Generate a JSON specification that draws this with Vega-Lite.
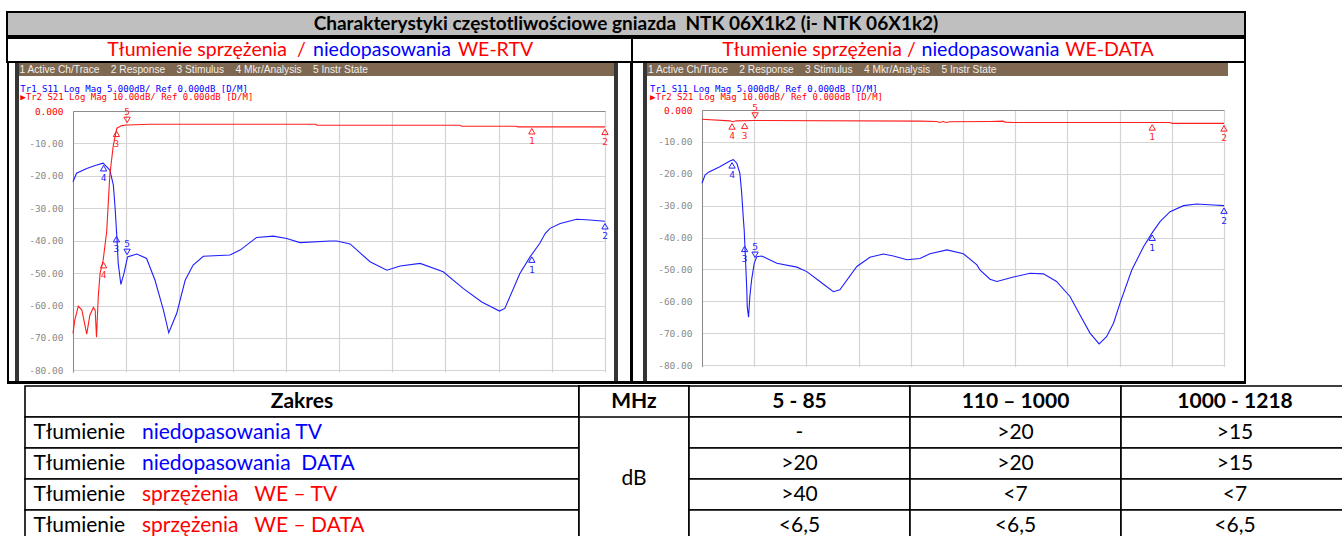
{
  "$schema": "https://vega.github.io/schema/vega-lite/v6.json",
  "background": "white",
  "padding": {"left": 6, "top": 11, "right": 0, "bottom": 0},
  "config": {"view": {"stroke": null}, "font": "Lato"},
  "datasets": {
    "traces": [
      {"p":"L","tr":"S11","f":5,"db":-21.8},{"p":"L","tr":"S11","f":13,"db":-19.2},{"p":"L","tr":"S11","f":36,"db":-17.7},{"p":"L","tr":"S11","f":55,"db":-16.8},{"p":"L","tr":"S11","f":73,"db":-16.1},{"p":"L","tr":"S11","f":88,"db":-18.2},{"p":"L","tr":"S11","f":96,"db":-22.8},{"p":"L","tr":"S11","f":100,"db":-30},{"p":"L","tr":"S11","f":104,"db":-39},{"p":"L","tr":"S11","f":107,"db":-47},{"p":"L","tr":"S11","f":113,"db":-53.5},{"p":"L","tr":"S11","f":120,"db":-50.1},{"p":"L","tr":"S11","f":128,"db":-45},{"p":"L","tr":"S11","f":149,"db":-44.1},{"p":"L","tr":"S11","f":171,"db":-45.5},{"p":"L","tr":"S11","f":190,"db":-52.2},{"p":"L","tr":"S11","f":209,"db":-61.4},{"p":"L","tr":"S11","f":221,"db":-68.4},{"p":"L","tr":"S11","f":239,"db":-62.4},{"p":"L","tr":"S11","f":258,"db":-52.2},{"p":"L","tr":"S11","f":276,"db":-47.5},{"p":"L","tr":"S11","f":299,"db":-44.8},{"p":"L","tr":"S11","f":359,"db":-44.4},{"p":"L","tr":"S11","f":382,"db":-42.9},{"p":"L","tr":"S11","f":419,"db":-39},{"p":"L","tr":"S11","f":457,"db":-38.6},{"p":"L","tr":"S11","f":487,"db":-39.3},{"p":"L","tr":"S11","f":517,"db":-40.6},{"p":"L","tr":"S11","f":585,"db":-40.1},{"p":"L","tr":"S11","f":600,"db":-40.1},{"p":"L","tr":"S11","f":630,"db":-41},{"p":"L","tr":"S11","f":675,"db":-46.5},{"p":"L","tr":"S11","f":713,"db":-49.1},{"p":"L","tr":"S11","f":743,"db":-47.8},{"p":"L","tr":"S11","f":788,"db":-47},{"p":"L","tr":"S11","f":840,"db":-49.6},{"p":"L","tr":"S11","f":885,"db":-54.7},{"p":"L","tr":"S11","f":927,"db":-58.9},{"p":"L","tr":"S11","f":967,"db":-61.7},{"p":"L","tr":"S11","f":979,"db":-60.9},{"p":"L","tr":"S11","f":1013,"db":-50.1},{"p":"L","tr":"S11","f":1036,"db":-45},{"p":"L","tr":"S11","f":1058,"db":-40.8},{"p":"L","tr":"S11","f":1070,"db":-37.8},{"p":"L","tr":"S11","f":1081,"db":-36.2},{"p":"L","tr":"S11","f":1104,"db":-34.7},{"p":"L","tr":"S11","f":1141,"db":-33.4},{"p":"L","tr":"S11","f":1171,"db":-33.6},{"p":"L","tr":"S11","f":1205,"db":-34},
      {"p":"L","tr":"S21","f":5,"db":-68.6},{"p":"L","tr":"S21","f":9,"db":-64.5},{"p":"L","tr":"S21","f":17,"db":-60.2},{"p":"L","tr":"S21","f":25,"db":-61.4},{"p":"L","tr":"S21","f":36,"db":-68.8},{"p":"L","tr":"S21","f":43,"db":-63},{"p":"L","tr":"S21","f":51,"db":-60.6},{"p":"L","tr":"S21","f":55,"db":-61.4},{"p":"L","tr":"S21","f":58,"db":-69.8},{"p":"L","tr":"S21","f":62,"db":-57.3},{"p":"L","tr":"S21","f":66,"db":-50.1},{"p":"L","tr":"S21","f":73,"db":-46},{"p":"L","tr":"S21","f":81,"db":-37.2},{"p":"L","tr":"S21","f":88,"db":-19.8},{"p":"L","tr":"S21","f":96,"db":-10.5},{"p":"L","tr":"S21","f":104,"db":-5.3},{"p":"L","tr":"S21","f":115,"db":-4.5},{"p":"L","tr":"S21","f":126,"db":-4.3},{"p":"L","tr":"S21","f":179,"db":-4.1},{"p":"L","tr":"S21","f":553,"db":-4.1},{"p":"L","tr":"S21","f":555,"db":-4.4},{"p":"L","tr":"S21","f":878,"db":-4.4},{"p":"L","tr":"S21","f":882,"db":-4.7},{"p":"L","tr":"S21","f":1004,"db":-4.7},{"p":"L","tr":"S21","f":1009,"db":-4.9},{"p":"L","tr":"S21","f":1205,"db":-4.9},
      {"p":"R","tr":"S11","f":5,"db":-23},{"p":"R","tr":"S11","f":12,"db":-20.4},{"p":"R","tr":"S11","f":20,"db":-19.5},{"p":"R","tr":"S11","f":46,"db":-17.8},{"p":"R","tr":"S11","f":69,"db":-16},{"p":"R","tr":"S11","f":77,"db":-15.6},{"p":"R","tr":"S11","f":85,"db":-16.7},{"p":"R","tr":"S11","f":92,"db":-19.8},{"p":"R","tr":"S11","f":96,"db":-25.6},{"p":"R","tr":"S11","f":100,"db":-34},{"p":"R","tr":"S11","f":102,"db":-37.6},{"p":"R","tr":"S11","f":104,"db":-43.9},{"p":"R","tr":"S11","f":108,"db":-56.4},{"p":"R","tr":"S11","f":109,"db":-61.7},{"p":"R","tr":"S11","f":112,"db":-65},{"p":"R","tr":"S11","f":115,"db":-58.5},{"p":"R","tr":"S11","f":119,"db":-53.3},{"p":"R","tr":"S11","f":125,"db":-48.1},{"p":"R","tr":"S11","f":131,"db":-46},{"p":"R","tr":"S11","f":142,"db":-45.8},{"p":"R","tr":"S11","f":177,"db":-48.1},{"p":"R","tr":"S11","f":223,"db":-49.3},{"p":"R","tr":"S11","f":246,"db":-50.7},{"p":"R","tr":"S11","f":276,"db":-53.8},{"p":"R","tr":"S11","f":307,"db":-57},{"p":"R","tr":"S11","f":322,"db":-56.4},{"p":"R","tr":"S11","f":361,"db":-49.1},{"p":"R","tr":"S11","f":391,"db":-46.2},{"p":"R","tr":"S11","f":422,"db":-45.2},{"p":"R","tr":"S11","f":445,"db":-45.8},{"p":"R","tr":"S11","f":476,"db":-47},{"p":"R","tr":"S11","f":506,"db":-46.6},{"p":"R","tr":"S11","f":529,"db":-45.1},{"p":"R","tr":"S11","f":568,"db":-43.9},{"p":"R","tr":"S11","f":606,"db":-45.1},{"p":"R","tr":"S11","f":637,"db":-48.6},{"p":"R","tr":"S11","f":644,"db":-50.2},{"p":"R","tr":"S11","f":667,"db":-53.1},{"p":"R","tr":"S11","f":683,"db":-53.8},{"p":"R","tr":"S11","f":721,"db":-52.4},{"p":"R","tr":"S11","f":759,"db":-51.2},{"p":"R","tr":"S11","f":790,"db":-51.4},{"p":"R","tr":"S11","f":820,"db":-53.8},{"p":"R","tr":"S11","f":851,"db":-58.5},{"p":"R","tr":"S11","f":874,"db":-64.3},{"p":"R","tr":"S11","f":897,"db":-70},{"p":"R","tr":"S11","f":918,"db":-73.4},{"p":"R","tr":"S11","f":935,"db":-71.1},{"p":"R","tr":"S11","f":951,"db":-66.9},{"p":"R","tr":"S11","f":966,"db":-60.6},{"p":"R","tr":"S11","f":993,"db":-50.2},{"p":"R","tr":"S11","f":1020,"db":-42.9},{"p":"R","tr":"S11","f":1039,"db":-38.7},{"p":"R","tr":"S11","f":1058,"db":-35},{"p":"R","tr":"S11","f":1081,"db":-31.9},{"p":"R","tr":"S11","f":1112,"db":-30},{"p":"R","tr":"S11","f":1142,"db":-29.5},{"p":"R","tr":"S11","f":1181,"db":-29.8},{"p":"R","tr":"S11","f":1205,"db":-30},
      {"p":"R","tr":"S21","f":5,"db":-2.9},{"p":"R","tr":"S21","f":69,"db":-3.4},{"p":"R","tr":"S21","f":76,"db":-3.7},{"p":"R","tr":"S21","f":83,"db":-3.4},{"p":"R","tr":"S21","f":122,"db":-3.3},{"p":"R","tr":"S21","f":506,"db":-3.5},{"p":"R","tr":"S21","f":544,"db":-3.6},{"p":"R","tr":"S21","f":552,"db":-3.9},{"p":"R","tr":"S21","f":559,"db":-3.6},{"p":"R","tr":"S21","f":566,"db":-3.9},{"p":"R","tr":"S21","f":575,"db":-3.7},{"p":"R","tr":"S21","f":667,"db":-3.6},{"p":"R","tr":"S21","f":697,"db":-3.5},{"p":"R","tr":"S21","f":702,"db":-3.8},{"p":"R","tr":"S21","f":720,"db":-3.9},{"p":"R","tr":"S21","f":1081,"db":-3.9},{"p":"R","tr":"S21","f":1086,"db":-4.2},{"p":"R","tr":"S21","f":1205,"db":-4.2}
    ],
    "markers": [
      {"p":"L","tr":"S21","id":4,"f":74,"db":-46},{"p":"L","tr":"S21","id":3,"f":103,"db":-5.5},{"p":"L","tr":"S21","id":5,"f":127,"db":-4.3},{"p":"L","tr":"S21","id":1,"f":1040,"db":-4.7},{"p":"L","tr":"S21","id":2,"f":1205,"db":-4.9},
      {"p":"L","tr":"S11","id":4,"f":74,"db":-16.1},{"p":"L","tr":"S11","id":3,"f":103,"db":-38},{"p":"L","tr":"S11","id":5,"f":127,"db":-45},{"p":"L","tr":"S11","id":1,"f":1040,"db":-44.3},{"p":"L","tr":"S11","id":2,"f":1205,"db":-34},
      {"p":"R","tr":"S21","id":4,"f":74,"db":-3.6},{"p":"R","tr":"S21","id":3,"f":103,"db":-3.4},{"p":"R","tr":"S21","id":5,"f":127,"db":-3.3},{"p":"R","tr":"S21","id":1,"f":1040,"db":-3.9},{"p":"R","tr":"S21","id":2,"f":1205,"db":-4.2},
      {"p":"R","tr":"S11","id":4,"f":74,"db":-15.8},{"p":"R","tr":"S11","id":3,"f":103,"db":-42},{"p":"R","tr":"S11","id":5,"f":127,"db":-47},{"p":"R","tr":"S11","id":1,"f":1040,"db":-38.5},{"p":"R","tr":"S11","id":2,"f":1205,"db":-30}
    ],
    "table": [
      {"row":"h","c1":"Zakres","c2":"MHz","c3":"5 - 85","c4":"110 – 1000","c5":"1000 - 1218"},
      {"row":"r1","lbl":"Tłumienie","c1":"niedopasowania TV","kind":"n","c2":"dB","c3":"-","c4":">20","c5":">15"},
      {"row":"r2","lbl":"Tłumienie","c1":"niedopasowania\u00a0\u00a0DATA","kind":"n","c2":"dB","c3":">20","c4":">20","c5":">15"},
      {"row":"r3","lbl":"Tłumienie","c1":"sprzężenia\u00a0\u00a0\u00a0WE – TV","kind":"s","c2":"dB","c3":">40","c4":"<7","c5":"<7"},
      {"row":"r4","lbl":"Tłumienie","c1":"sprzężenia\u00a0\u00a0\u00a0WE – DATA","kind":"s","c2":"dB","c3":"<6,5","c4":"<6,5","c5":"<6,5"}
    ]
  },
  "spacing": 0,
  "vconcat": [
    {
      "width": 1238, "height": 24,
      "view": {"fill": "#bfbfbf", "stroke": "black", "strokeWidth": 2},
      "data": {"values": [{"t": "Charakterystyki częstotliwościowe gniazda\u00a0\u00a0NTK 06X1k2 (i- NTK 06X1k2)"}]},
      "mark": {"type": "text", "font": "Lato", "fontSize": 19, "fontWeight": "bold", "color": "black"},
      "encoding": {"text": {"field": "t"}}
    },
    {
      "hconcat": [
        {
          "width": 625, "height": 24,
          "view": {"fill": "white", "stroke": "black", "strokeWidth": 2},
          "data": {"values": [{"a": "Tłumienie sprzężenia\u00a0\u00a0/", "b": "niedopasowania", "c": "WE-RTV"}]},
          "layer": [
            {"mark": {"type": "text", "font": "Lato", "fontSize": 19.5, "color": "#ff0000", "dx": -113}, "encoding": {"text": {"field": "a"}}},
            {"mark": {"type": "text", "font": "Lato", "fontSize": 19.5, "color": "#0000ff", "dx": 62.5}, "encoding": {"text": {"field": "b"}}},
            {"mark": {"type": "text", "font": "Lato", "fontSize": 19.5, "color": "#ff0000", "dx": 176}, "encoding": {"text": {"field": "c"}}}
          ]
        },
        {
          "width": 613, "height": 24,
          "view": {"fill": "white", "stroke": "black", "strokeWidth": 2},
          "data": {"values": [{"a": "Tłumienie sprzężenia /", "b": "niedopasowania", "c": "WE-DATA"}]},
          "layer": [
            {"mark": {"type": "text", "font": "Lato", "fontSize": 19.5, "color": "#ff0000", "dx": -119.5}, "encoding": {"text": {"field": "a"}}},
            {"mark": {"type": "text", "font": "Lato", "fontSize": 19.5, "color": "#0000ff", "dx": 52}, "encoding": {"text": {"field": "b"}}},
            {"mark": {"type": "text", "font": "Lato", "fontSize": 19.5, "color": "#ff0000", "dx": 171}, "encoding": {"text": {"field": "c"}}}
          ]
        }
      ],
      "spacing": 0,
      "bounds": "flush"
    },
    {
      "hconcat": [
        {"width": 2, "height": 318, "view": {"fill": "black"}, "data": {"values": [{}]}, "mark": {"type": "rect", "opacity": 0}, "encoding": {}},
        {"width": 6, "height": 318, "data": {"values": [{}]}, "mark": {"type": "rect", "opacity": 0}, "encoding": {}},
        {"width": 4, "height": 318, "view": {"fill": "#353535"}, "data": {"values": [{}]}, "mark": {"type": "rect", "opacity": 0}, "encoding": {}},
        {
          "vconcat": [
            {
              "width": 595, "height": 13,
              "view": {"fill": "#7e6852"},
              "data": {"values": [{"t": "1 Active Ch/Trace\u00a0\u00a0\u00a0\u00a02 Response\u00a0\u00a0\u00a0\u00a03 Stimulus\u00a0\u00a0\u00a0\u00a04 Mkr/Analysis\u00a0\u00a0\u00a0\u00a05 Instr State"}]},
              "mark": {"type": "text", "align": "left", "dx": -297, "font": "Liberation Sans", "fontSize": 10.2, "color": "#f2efea"},
              "encoding": {"text": {"field": "t"}}
            },
            {
              "width": 595, "height": 303,
              "view": {"fill": "white"},
              "title": {"text": "\u00a0Tr1 S11 Log Mag 5.000dB/ Ref 0.000dB [D/M]", "subtitle": "▶Tr2 S21 Log Mag 10.00dB/ Ref 0.000dB [D/M]", "anchor": "start", "frame": "group", "offset": -26, "dx": 1.3, "font": "DejaVu Sans Mono", "fontSize": 9, "fontWeight": "normal", "color": "#0000ff", "subtitleFont": "DejaVu Sans Mono", "subtitleFontSize": 9, "subtitleColor": "#ff0000", "subtitlePadding": -0.7},
              "encoding": {
                "x": {"field": "f", "type": "quantitative", "title": null, "scale": {"domain": [5, 1205], "range": [54, 586], "nice": false, "zero": false},
                      "axis": {"orient": "top", "offset": -35, "values": [5,125,245,365,485,605,725,845,965,1085,1205], "labels": false, "ticks": false, "domain": true, "domainColor": "#8c8c8c", "domainWidth": 1, "grid": true, "gridColor": "#d4d4d4", "gridWidth": 1.2, "title": null}},
                "y": {"field": "db", "type": "quantitative", "title": null, "scale": {"domain": [-80.5, 0], "range": [296, 35], "nice": false, "zero": false},
                      "axis": {"orient": "left", "offset": -54, "values": [0,-10,-20,-30,-40,-50,-60,-70,-80], "labelExpr": "datum.value == 0 ? '0.000' : '-' + format(-datum.value, '.2f')", "labelColor": {"condition": {"test": "datum.value == 0", "value": "#ff0000"}, "value": "#8a8a8a"}, "labelFont": "DejaVu Sans Mono", "labelFontSize": 9.5, "labelPadding": 10, "ticks": false, "domain": true, "domainColor": "#8c8c8c", "grid": true, "gridColor": "#d4d4d4", "gridWidth": 1.2, "title": null}}
              },
              "layer": [
                {"data": {"values": [{}]}, "mark": {"type": "rule", "color": "#8c8c8c", "strokeWidth": 1}, "encoding": {"x": {"datum": 1205}, "y": {"datum": 0}, "y2": {"datum": -80.5}}},
                {"data": {"name": "traces"}, "transform": [{"filter": "datum.p == 'L'"}], "mark": {"type": "line", "strokeWidth": 1.1},
                 "encoding": {"color": {"field": "tr", "type": "nominal", "scale": {"domain": ["S11","S21"], "range": ["#1f1fff","#ff1f1f"]}, "legend": null}, "detail": {"field": "tr"}}},
                {"data": {"name": "markers"}, "transform": [{"filter": "datum.p == 'L' && datum.id != 5"}], "mark": {"type": "point", "shape": "triangle-up", "filled": false, "size": 40, "strokeWidth": 1, "yOffset": 5, "opacity": 1},
                 "encoding": {"color": {"field": "tr", "type": "nominal", "scale": {"domain": ["S11","S21"], "range": ["#1f1fff","#ff1f1f"]}, "legend": null}}},
                {"data": {"name": "markers"}, "transform": [{"filter": "datum.p == 'L' && datum.id != 5"}], "mark": {"type": "text", "dy": 15, "font": "DejaVu Sans Mono", "fontSize": 9.5},
                 "encoding": {"text": {"field": "id"}, "color": {"field": "tr", "type": "nominal", "scale": {"domain": ["S11","S21"], "range": ["#1f1fff","#ff1f1f"]}, "legend": null}}},
                {"data": {"name": "markers"}, "transform": [{"filter": "datum.p == 'L' && datum.id == 5"}], "mark": {"type": "point", "shape": "triangle-down", "filled": false, "size": 40, "strokeWidth": 1, "yOffset": -5, "opacity": 1},
                 "encoding": {"color": {"field": "tr", "type": "nominal", "scale": {"domain": ["S11","S21"], "range": ["#1f1fff","#ff1f1f"]}, "legend": null}}},
                {"data": {"name": "markers"}, "transform": [{"filter": "datum.p == 'L' && datum.id == 5"}], "mark": {"type": "text", "dy": -12.5, "font": "DejaVu Sans Mono", "fontSize": 9.5},
                 "encoding": {"text": {"field": "id"}, "color": {"field": "tr", "type": "nominal", "scale": {"domain": ["S11","S21"], "range": ["#1f1fff","#ff1f1f"]}, "legend": null}}},
                {"data": {"values": [{}]}, "mark": {"type": "point", "shape": "triangle-right", "filled": true, "size": 50, "color": "#ff0000", "xOffset": -4, "opacity": 1}, "encoding": {"x": {"datum": 5}, "y": {"datum": 0}}},
                {"data": {"values": [{}]}, "mark": {"type": "point", "shape": "triangle-left", "filled": true, "size": 50, "color": "#ff0000", "xOffset": 5, "opacity": 1}, "encoding": {"x": {"datum": 1205}, "y": {"datum": 0}}}
              ]
            }
          ],
          "spacing": 0
        },
        {"width": 4, "height": 318, "view": {"fill": "#353535"}, "data": {"values": [{}]}, "mark": {"type": "rect", "opacity": 0}, "encoding": {}},
        {"width": 12, "height": 318, "data": {"values": [{}]}, "mark": {"type": "rect", "opacity": 0}, "encoding": {}},
        {"width": 3, "height": 318, "view": {"fill": "black"}, "data": {"values": [{}]}, "mark": {"type": "rect", "opacity": 0}, "encoding": {}},
        {"width": 10, "height": 318, "data": {"values": [{}]}, "mark": {"type": "rect", "opacity": 0}, "encoding": {}},
        {"width": 4, "height": 318, "view": {"fill": "#353535"}, "data": {"values": [{}]}, "mark": {"type": "rect", "opacity": 0}, "encoding": {}},
        {
          "vconcat": [
            {
              "width": 581, "height": 13,
              "view": {"fill": "#7e6852"},
              "data": {"values": [{"t": "1 Active Ch/Trace\u00a0\u00a0\u00a0\u00a02 Response\u00a0\u00a0\u00a0\u00a03 Stimulus\u00a0\u00a0\u00a0\u00a04 Mkr/Analysis\u00a0\u00a0\u00a0\u00a05 Instr State"}]},
              "mark": {"type": "text", "align": "left", "dx": -289.5, "font": "Liberation Sans", "fontSize": 10.2, "color": "#f2efea"},
              "encoding": {"text": {"field": "t"}}
            },
            {
              "width": 597, "height": 303,
              "view": {"fill": "white"},
              "title": {"text": "\u00a0Tr1 S11 Log Mag 5.000dB/ Ref 0.000dB [D/M]", "subtitle": "▶Tr2 S21 Log Mag 10.00dB/ Ref 0.000dB [D/M]", "anchor": "start", "frame": "group", "offset": -26, "dx": 3, "font": "DejaVu Sans Mono", "fontSize": 9, "fontWeight": "normal", "color": "#0000ff", "subtitleFont": "DejaVu Sans Mono", "subtitleFontSize": 9, "subtitleColor": "#ff0000", "subtitlePadding": -0.7},
              "encoding": {
                "x": {"field": "f", "type": "quantitative", "title": null, "scale": {"domain": [5, 1205], "range": [55, 577], "nice": false, "zero": false},
                      "axis": {"orient": "top", "offset": -34, "values": [5,125,245,365,485,605,725,845,965,1085,1205], "labels": false, "ticks": false, "domain": true, "domainColor": "#8c8c8c", "domainWidth": 1, "grid": true, "gridColor": "#d4d4d4", "gridWidth": 1.2, "title": null}},
                "y": {"field": "db", "type": "quantitative", "title": null, "scale": {"domain": [-80.5, 0], "range": [290.6, 34], "nice": false, "zero": false},
                      "axis": {"orient": "left", "offset": -55, "values": [0,-10,-20,-30,-40,-50,-60,-70,-80], "labelExpr": "datum.value == 0 ? '0.000' : '-' + format(-datum.value, '.2f')", "labelColor": {"condition": {"test": "datum.value == 0", "value": "#ff0000"}, "value": "#8a8a8a"}, "labelFont": "DejaVu Sans Mono", "labelFontSize": 9.5, "labelPadding": 10, "ticks": false, "domain": true, "domainColor": "#8c8c8c", "grid": true, "gridColor": "#d4d4d4", "gridWidth": 1.2, "title": null}}
              },
              "layer": [
                {"data": {"values": [{}]}, "mark": {"type": "rule", "color": "#8c8c8c", "strokeWidth": 1}, "encoding": {"x": {"datum": 1205}, "y": {"datum": 0}, "y2": {"datum": -80.5}}},
                {"data": {"name": "traces"}, "transform": [{"filter": "datum.p == 'R'"}], "mark": {"type": "line", "strokeWidth": 1.1},
                 "encoding": {"color": {"field": "tr", "type": "nominal", "scale": {"domain": ["S11","S21"], "range": ["#1f1fff","#ff1f1f"]}, "legend": null}, "detail": {"field": "tr"}}},
                {"data": {"name": "markers"}, "transform": [{"filter": "datum.p == 'R' && datum.id != 5"}], "mark": {"type": "point", "shape": "triangle-up", "filled": false, "size": 40, "strokeWidth": 1, "yOffset": 5, "opacity": 1},
                 "encoding": {"color": {"field": "tr", "type": "nominal", "scale": {"domain": ["S11","S21"], "range": ["#1f1fff","#ff1f1f"]}, "legend": null}}},
                {"data": {"name": "markers"}, "transform": [{"filter": "datum.p == 'R' && datum.id != 5"}], "mark": {"type": "text", "dy": 15, "font": "DejaVu Sans Mono", "fontSize": 9.5},
                 "encoding": {"text": {"field": "id"}, "color": {"field": "tr", "type": "nominal", "scale": {"domain": ["S11","S21"], "range": ["#1f1fff","#ff1f1f"]}, "legend": null}}},
                {"data": {"name": "markers"}, "transform": [{"filter": "datum.p == 'R' && datum.id == 5"}], "mark": {"type": "point", "shape": "triangle-down", "filled": false, "size": 40, "strokeWidth": 1, "yOffset": -5, "opacity": 1},
                 "encoding": {"color": {"field": "tr", "type": "nominal", "scale": {"domain": ["S11","S21"], "range": ["#1f1fff","#ff1f1f"]}, "legend": null}}},
                {"data": {"name": "markers"}, "transform": [{"filter": "datum.p == 'R' && datum.id == 5"}], "mark": {"type": "text", "dy": -12.5, "font": "DejaVu Sans Mono", "fontSize": 9.5},
                 "encoding": {"text": {"field": "id"}, "color": {"field": "tr", "type": "nominal", "scale": {"domain": ["S11","S21"], "range": ["#1f1fff","#ff1f1f"]}, "legend": null}}},
                {"data": {"values": [{}]}, "mark": {"type": "point", "shape": "triangle-right", "filled": true, "size": 50, "color": "#ff0000", "xOffset": -4, "opacity": 1}, "encoding": {"x": {"datum": 5}, "y": {"datum": 0}}}
              ]
            }
          ],
          "spacing": 0
        },
        {"width": 2, "height": 318, "view": {"fill": "black"}, "data": {"values": [{}]}, "mark": {"type": "rect", "opacity": 0}, "encoding": {}}
      ],
      "spacing": 0
    },
    {"width": 1239, "height": 3, "view": {"fill": "black"}, "data": {"values": [{}]}, "mark": {"type": "rect", "opacity": 0}, "encoding": {}},
    {"width": 10, "height": 1, "data": {"values": [{}]}, "mark": {"type": "rect", "opacity": 0}, "encoding": {}},
    {
      "hconcat": [
        {"width": 18, "height": 155, "data": {"values": [{}]}, "mark": {"type": "rect", "opacity": 0}, "encoding": {}},
        {
          "width": 554, "height": 155,
          "data": {"name": "table"},
          "layer": [
            {"mark": {"type": "rect", "fill": "white", "stroke": "black", "strokeWidth": 1.6},
             "encoding": {"y": {"field": "row", "type": "nominal", "scale": {"domain": ["h","r1","r2","r3","r4"], "paddingInner": 0, "paddingOuter": 0}, "axis": null}}},
            {"transform": [{"filter": "datum.row == 'h'"}], "mark": {"type": "text", "font": "Lato", "fontSize": 21, "fontWeight": "bold", "color": "black"},
             "encoding": {"y": {"field": "row", "type": "nominal"}, "text": {"field": "c1"}}},
            {"transform": [{"filter": "datum.row != 'h'"}], "mark": {"type": "text", "align": "left", "dx": -268.5, "font": "Lato", "fontSize": 21, "color": "black"},
             "encoding": {"y": {"field": "row", "type": "nominal"}, "text": {"field": "lbl"}}},
            {"transform": [{"filter": "datum.kind == 'n'"}], "mark": {"type": "text", "align": "left", "dx": -160, "font": "Lato", "fontSize": 21, "color": "#0000ff"},
             "encoding": {"y": {"field": "row", "type": "nominal"}, "text": {"field": "c1"}}},
            {"transform": [{"filter": "datum.kind == 's'"}], "mark": {"type": "text", "align": "left", "dx": -160, "font": "Lato", "fontSize": 21, "color": "#ff0000"},
             "encoding": {"y": {"field": "row", "type": "nominal"}, "text": {"field": "c1"}}}
          ]
        },
        {
          "width": 110, "height": 155,
          "data": {"name": "table"},
          "layer": [
            {"transform": [{"filter": "datum.row == 'h'"}], "mark": {"type": "rect", "fill": "white", "stroke": "black", "strokeWidth": 1.6}, "encoding": {}},
            {"transform": [{"filter": "datum.row == 'h'"}], "mark": {"type": "rect", "fill": "white", "stroke": "black", "strokeWidth": 1.6},
             "encoding": {"y": {"field": "row", "type": "nominal", "scale": {"domain": ["h","r1","r2","r3","r4"], "paddingInner": 0, "paddingOuter": 0}, "axis": null}}},
            {"transform": [{"filter": "datum.row == 'h'"}], "mark": {"type": "text", "font": "Lato", "fontSize": 21, "fontWeight": "bold", "color": "black"},
             "encoding": {"y": {"field": "row", "type": "nominal"}, "text": {"field": "c2"}}},
            {"transform": [{"filter": "datum.row == 'r3'"}], "mark": {"type": "text", "font": "Lato", "fontSize": 21, "color": "black"},
             "encoding": {"y": {"field": "row", "type": "nominal", "bandPosition": 0}, "text": {"field": "c2"}}}
          ]
        },
        {
          "width": 221, "height": 155,
          "data": {"name": "table"},
          "encoding": {"y": {"field": "row", "type": "nominal", "scale": {"domain": ["h","r1","r2","r3","r4"], "paddingInner": 0, "paddingOuter": 0}, "axis": null}},
          "layer": [
            {"mark": {"type": "rect", "fill": "white", "stroke": "black", "strokeWidth": 1.6}},
            {"transform": [{"filter": "datum.row == 'h'"}], "mark": {"type": "text", "font": "Lato", "fontSize": 21, "fontWeight": "bold", "color": "black"}, "encoding": {"text": {"field": "c3"}}},
            {"transform": [{"filter": "datum.row != 'h'"}], "mark": {"type": "text", "font": "Lato", "fontSize": 21, "color": "black"}, "encoding": {"text": {"field": "c3"}}}
          ]
        },
        {
          "width": 211, "height": 155,
          "data": {"name": "table"},
          "encoding": {"y": {"field": "row", "type": "nominal", "scale": {"domain": ["h","r1","r2","r3","r4"], "paddingInner": 0, "paddingOuter": 0}, "axis": null}},
          "layer": [
            {"mark": {"type": "rect", "fill": "white", "stroke": "black", "strokeWidth": 1.6}},
            {"transform": [{"filter": "datum.row == 'h'"}], "mark": {"type": "text", "font": "Lato", "fontSize": 21, "fontWeight": "bold", "color": "black"}, "encoding": {"text": {"field": "c4"}}},
            {"transform": [{"filter": "datum.row != 'h'"}], "mark": {"type": "text", "font": "Lato", "fontSize": 21, "color": "black"}, "encoding": {"text": {"field": "c4"}}}
          ]
        },
        {
          "width": 228, "height": 155,
          "data": {"name": "table"},
          "encoding": {"y": {"field": "row", "type": "nominal", "scale": {"domain": ["h","r1","r2","r3","r4"], "paddingInner": 0, "paddingOuter": 0}, "axis": null}},
          "layer": [
            {"mark": {"type": "rect", "fill": "white", "stroke": "black", "strokeWidth": 1.6}},
            {"transform": [{"filter": "datum.row == 'h'"}], "mark": {"type": "text", "font": "Lato", "fontSize": 21, "fontWeight": "bold", "color": "black"}, "encoding": {"text": {"field": "c5"}}},
            {"transform": [{"filter": "datum.row != 'h'"}], "mark": {"type": "text", "font": "Lato", "fontSize": 21, "color": "black"}, "encoding": {"text": {"field": "c5"}}}
          ]
        }
      ],
      "spacing": 0,
      "bounds": "flush"
    }
  ]
}
